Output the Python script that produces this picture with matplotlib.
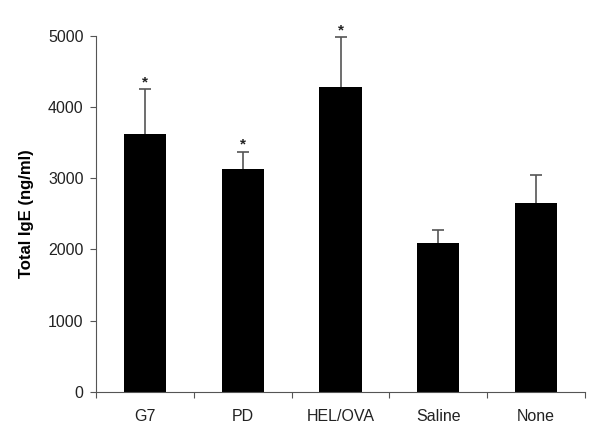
import numpy as np
import matplotlib.pyplot as plt

plt.rcParams['font.family'] = ['Liberation Sans', 'DejaVu Sans']

groups = ['G7', 'PD', 'HEL/OVA', 'Saline', 'None']
means = [3620, 3130, 4285, 2090, 2655]
errors = [635, 245, 695, 180, 385]
significant = [True, True, True, False, False]

x = np.arange(len(groups))

fig = plt.figure(figsize=(6, 4.33), dpi=100)
ax = fig.add_axes([0.16, 0.095, 0.815, 0.822])

ax.bar(x, means, width=0.43, color='black', zorder=2)
eb = ax.errorbar(x, means, yerr=[np.zeros(len(means)), errors], fmt='none',
                 ecolor='#555555', elinewidth=1.2, capsize=4, capthick=1.2, zorder=1)
# only the upper cap is drawn
eb[1][0].set_visible(False)

for xi, m, e, s in zip(x, means, errors, significant):
    if s:
        ax.annotate('*', (xi, m + e), xytext=(0, 0), textcoords='offset points',
                    ha='center', va='bottom', fontsize=11, fontweight='bold',
                    color='#222222')

ax.set_xlim(-0.5, 4.5)
ax.set_ylim(0, 5000)
ax.set_yticks(range(0, 5001, 1000))
ax.set_xticks(np.arange(-0.5, 4.6, 1))
ax.set_xticklabels([])
ax.set_xticks(x, groups, minor=True)
ax.tick_params(axis='x', which='minor', length=0, pad=12)
ax.tick_params(axis='x', which='major', length=4, color='#555555')
ax.tick_params(axis='y', length=4, color='#555555', pad=5)
for lab in ax.get_xticklabels(minor=True) + ax.get_yticklabels():
    lab.set_fontsize(11.5)
    lab.set_color('#222222')

ax.spines['top'].set_visible(False)
ax.spines['right'].set_visible(False)
ax.spines['left'].set_color('#555555')
ax.spines['bottom'].set_color('#555555')

ax.set_ylabel('Total IgE (ng/ml)', fontsize=12, fontweight='bold', labelpad=10)

fig.savefig('out.png')
